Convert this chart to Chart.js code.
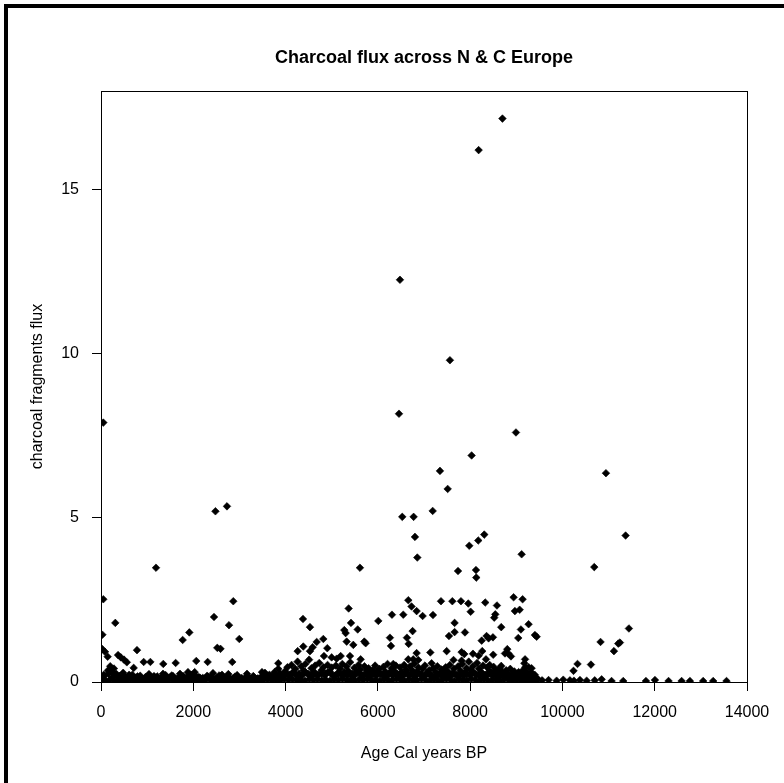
<!DOCTYPE html>
<html lang="en">
<head>
<meta charset="UTF-8">
<title>Charcoal flux across N &amp; C Europe</title>
<script src="https://cdn.jsdelivr.net/npm/chart.js"></script>
<style>
  html, body { margin: 0; padding: 0; background: #fff; }
  #wrap { width: 784px; height: 783px; }
</style>
</head>
<body>
<div id="wrap"><canvas id="fluxChart" width="784" height="783"></canvas></div>
<script>
const chartTitle = 'Charcoal flux across N & C Europe';
const xTitle = 'Age Cal years BP';
const yTitle = 'charcoal fragments flux';
const xTicks = [0, 2000, 4000, 6000, 8000, 10000, 12000, 14000];
const yTicks = [0, 5, 10, 15];

// the scattered points standing above the dense band
const peakAge = [
  8700, 8184, 6479, 7562, 6458, 50, 8993, 8032, 10943, 7346,
  7513, 7188, 6529, 6775, 6804, 6855, 11369, 7981, 8176, 8306,
  9116, 10690, 7737, 8126, 8133, 2480, 2730, 1192, 5612, 50,
  2867, 310, 2449, 30, 1914, 1770, 2997, 30, 87, 144,
  370, 430, 500, 560, 780, 2520, 2590, 925, 1070, 1350,
  1618, 2065, 2311, 2845, 708, 4377, 4529, 5367, 5418, 5273,
  5302, 5563, 6010, 6306, 6551, 6660, 6730, 6840, 6970, 6262,
  6284, 6630, 6667, 6753, 4818, 4674, 4587, 4262, 4384, 4529,
  4904, 4832, 4999, 5107, 5194, 5396, 5324, 5468, 5706, 5736,
  5627, 6334, 6840, 3842, 7194, 7368, 7614, 7801, 7960, 8327,
  8581, 8942, 9137, 8970, 9073, 8011, 8545, 8522, 7663, 7888,
  7663, 7541, 8674, 9267, 9100, 9043, 9404, 9441, 8356, 8494,
  8400, 8250, 7137, 7491, 7815, 7873, 8061, 8262, 8805, 8755,
  8885, 8500, 9190, 9175, 7640, 8343, 8423, 8674, 9332, 10327,
  10240, 10618, 11441, 10826, 11210, 11246, 11116, 2774, 6767, 6876,
  6659, 7165, 7815, 8184, 8826
];
const peakFlux = [
  17.16, 16.2, 12.25, 9.8, 8.17, 7.9, 7.6, 6.9, 6.36, 6.43,
  5.88, 5.21, 5.03, 5.03, 4.42, 3.79, 4.46, 4.15, 4.31, 4.49,
  3.89, 3.5, 3.38, 3.41, 3.18, 5.2, 5.35, 3.48, 3.48, 2.52,
  2.46, 1.8, 1.98, 1.44, 1.51, 1.28, 1.31, 1.0, 0.92, 0.77,
  0.82, 0.75, 0.68, 0.6, 0.97, 1.04, 1.01, 0.61, 0.61, 0.55,
  0.58, 0.64, 0.61, 0.61, 0.43, 1.92, 1.67, 2.24, 1.8, 1.58,
  1.49, 1.6, 1.86, 2.05, 2.05, 2.49, 2.3, 2.16, 2.01, 1.35,
  1.1, 1.35, 1.16, 1.55, 1.31, 1.22, 1.06, 0.94, 1.08, 0.94,
  1.03, 0.79, 0.75, 0.71, 0.79, 0.79, 1.23, 1.13, 1.23, 1.18,
  0.69, 0.55, 0.88, 0.57, 2.04, 2.46, 2.46, 2.46, 2.39, 2.42,
  2.33, 2.58, 2.52, 2.16, 2.2, 2.14, 2.06, 1.96, 1.8, 1.51,
  1.52, 1.4, 1.67, 1.76, 1.6, 1.34, 1.43, 1.38, 1.4, 1.36,
  1.33, 1.26, 0.9, 0.94, 0.91, 0.85, 0.86, 0.94, 1.0, 0.87,
  0.78, 0.83, 0.69, 0.57, 0.67, 0.69, 0.52, 0.49, 0.42, 0.55,
  0.34, 0.53, 1.63, 1.22, 1.17, 1.2, 0.94, 1.73, 0.69, 0.67,
  0.69, 0.57, 0.65, 0.8, 0.87
];

// upper part of the dense band near zero
const bandAge = [
  60, 150, 200, 240, 280, 330, 400, 480, 600, 680,
  760, 850, 960, 1040, 1130, 1220, 1300, 1344, 1400, 1490,
  1532, 1560, 1650, 1712, 1750, 1850, 1885, 1950, 2030, 2037,
  2120, 2200, 2300, 2380, 2427, 2560, 2622, 2650, 2760, 2900,
  2950, 3050, 3150, 3164, 3230, 3300, 3380, 3460, 3489, 3553,
  3600, 3650, 3700, 3760, 3800, 3842, 3890, 3940, 3990, 4040,
  4080, 4130, 4170, 4210, 4260, 4300, 4340, 4390, 4430, 4470,
  4510, 4560, 4600, 4640, 4690, 4730, 4780, 4820, 4870, 4910,
  4960, 5000, 5050, 5090, 5140, 5180, 5230, 5270, 5320, 5360,
  5400, 5450, 5490, 5540, 5580, 5620, 5670, 5710, 5760, 5800,
  5850, 5890, 5940, 5980, 6030, 6070, 6120, 6160, 6210, 6250,
  6300, 6340, 6390, 6430, 6480, 6520, 6570, 6610, 6660, 6700,
  6750, 6790, 6840, 6880, 6930, 6970, 7020, 7060, 7110, 7150,
  7200, 7250, 7290, 7340, 7380, 7430, 7470, 7520, 7560, 7610,
  7650, 7700, 7740, 7790, 7830, 7880, 7920, 7970, 8010, 8060,
  8100, 8150, 8190, 8240, 8280, 8330, 8370, 8420, 8460, 8510,
  8550, 8600, 8640, 8690, 8730, 8780, 8820, 8870, 8910, 8960,
  9000, 9050, 9090, 9140, 9180, 9185, 9195, 9230, 9270, 9320,
  9360, 9400, 9440
];
const bandFlux = [
  0.22, 0.35, 0.48, 0.30, 0.41, 0.25, 0.18, 0.28, 0.16, 0.22,
  0.12, 0.19, 0.14, 0.24, 0.11, 0.17, 0.13, 0.25, 0.21, 0.12,
  0.20, 0.18, 0.10, 0.25, 0.16, 0.13, 0.30, 0.22, 0.30, 0.15,
  0.15, 0.12, 0.19, 0.14, 0.27, 0.20, 0.22, 0.15, 0.24, 0.16,
  0.21, 0.12, 0.15, 0.25, 0.10, 0.18, 0.09, 0.14, 0.30, 0.28,
  0.12, 0.22, 0.08, 0.30, 0.18, 0.40, 0.25, 0.14, 0.33, 0.45,
  0.22, 0.52, 0.30, 0.40, 0.62, 0.18, 0.48, 0.35, 0.55, 0.25,
  0.68, 0.42, 0.30, 0.50, 0.20, 0.58, 0.36, 0.45, 0.26, 0.52,
  0.32, 0.44, 0.18, 0.50, 0.28, 0.40, 0.55, 0.22, 0.47, 0.33,
  0.60, 0.25, 0.43, 0.30, 0.52, 0.38, 0.20, 0.48, 0.34, 0.42,
  0.26, 0.36, 0.50, 0.30, 0.40, 0.22, 0.46, 0.32, 0.55, 0.28,
  0.42, 0.35, 0.50, 0.24, 0.44, 0.30, 0.52, 0.38, 0.26, 0.48,
  0.35, 0.56, 0.30, 0.44, 0.22, 0.40, 0.50, 0.28, 0.36, 0.20,
  0.42, 0.30, 0.48, 0.25, 0.38, 0.18, 0.45, 0.32, 0.52, 0.26,
  0.40, 0.22, 0.48, 0.34, 0.55, 0.28, 0.42, 0.62, 0.36, 0.48,
  0.25, 0.58, 0.40, 0.30, 0.50, 0.22, 0.44, 0.33, 0.28, 0.46,
  0.35, 0.25, 0.42, 0.30, 0.20, 0.36, 0.26, 0.40, 0.22, 0.32,
  0.18, 0.30, 0.24, 0.35, 0.20, 0.33, 0.45, 0.28, 0.45, 0.30,
  0.18, 0.22, 0.12
];

// middle of the band, between the bottom row and the band top
const fillAge = [
  65, 160, 250, 345, 430, 520, 610, 700, 790, 880,
  975, 1060, 1150, 1240, 1330, 1425, 1510, 1600, 1690, 1780,
  1870, 1960, 2050, 2145, 2230, 2320, 2410, 2500, 2590, 2680,
  2770, 2860, 2950, 3040, 3130, 3220, 3310, 3400, 3490, 3570,
  3660, 3730, 3800, 3870, 3940, 4010, 4080, 4150, 4220, 4290,
  4360, 4430, 4500, 4570, 4640, 4710, 4780, 4850, 4920, 4990,
  5060, 5130, 5200, 5270, 5340, 5410, 5480, 5550, 5620, 5690,
  5760, 5830, 5900, 5970, 6040, 6110, 6180, 6250, 6320, 6390,
  6460, 6530, 6600, 6670, 6740, 6810, 6880, 6950, 7020, 7090,
  7160, 7230, 7300, 7370, 7440, 7510, 7580, 7650, 7720, 7790,
  7860, 7930, 8000, 8070, 8140, 8210, 8280, 8350, 8420, 8490,
  8560, 8630, 8700, 8770, 8840, 8910, 8980, 9050, 9120, 9190,
  9260, 9330, 9400
];
const fillFlux = [
  0.18, 0.25, 0.14, 0.20, 0.12, 0.16, 0.22, 0.13, 0.17, 0.11,
  0.15, 0.12, 0.18, 0.10, 0.14, 0.12, 0.16, 0.11, 0.13, 0.18,
  0.12, 0.15, 0.19, 0.13, 0.11, 0.16, 0.14, 0.12, 0.17, 0.13,
  0.15, 0.11, 0.14, 0.10, 0.13, 0.12, 0.15, 0.11, 0.16, 0.14,
  0.16, 0.20, 0.14, 0.22, 0.18, 0.25, 0.20, 0.28, 0.22, 0.26,
  0.20, 0.30, 0.24, 0.18, 0.28, 0.22, 0.26, 0.20, 0.30, 0.24,
  0.18, 0.26, 0.22, 0.30, 0.20, 0.25, 0.18, 0.28, 0.24, 0.20,
  0.26, 0.18, 0.24, 0.20, 0.28, 0.22, 0.18, 0.25, 0.20, 0.27,
  0.22, 0.18, 0.26, 0.20, 0.24, 0.18, 0.28, 0.22, 0.19, 0.25,
  0.20, 0.16, 0.24, 0.20, 0.28, 0.22, 0.18, 0.26, 0.20, 0.24,
  0.18, 0.25, 0.20, 0.30, 0.22, 0.18, 0.24, 0.20, 0.26, 0.18,
  0.22, 0.16, 0.24, 0.18, 0.20, 0.15, 0.22, 0.18, 0.16, 0.24,
  0.18, 0.15, 0.12
];

// bottom of the band, almost on the axis
const baseAge = [
  20, 110, 190, 290, 370, 460, 560, 640, 735, 820,
  910, 1005, 1090, 1180, 1275, 1360, 1450, 1545, 1630, 1720,
  1815, 1900, 1990, 2085, 2170, 2260, 2355, 2440, 2530, 2625,
  2710, 2800, 2895, 2980, 3070, 3165, 3250, 3340, 3435, 3520,
  3610, 3705, 3790, 3880, 3975, 4060, 4150, 4245, 4330, 4420,
  4515, 4600, 4690, 4785, 4870, 4960, 5055, 5140, 5230, 5325,
  5410, 5500, 5595, 5680, 5770, 5865, 5950, 6040, 6135, 6220,
  6310, 6405, 6490, 6580, 6675, 6760, 6850, 6945, 7030, 7120,
  7215, 7300, 7390, 7485, 7570, 7660, 7755, 7840, 7930, 8025,
  8110, 8200, 8295, 8380, 8470, 8565, 8650, 8740, 8835, 8920,
  9010, 9105, 9190, 9280, 9375, 9470, 9560, 9700, 9874, 10018,
  10163, 10250, 10380, 10525, 10700
];
const baseFlux = [
  0.05, 0.03, 0.07, 0.04, 0.06, 0.02, 0.05, 0.08, 0.03, 0.06,
  0.04, 0.07, 0.02, 0.05, 0.03, 0.06, 0.04, 0.08, 0.03, 0.05,
  0.02, 0.06, 0.04, 0.07, 0.03, 0.05, 0.08, 0.04, 0.06, 0.02,
  0.05, 0.03, 0.07, 0.04, 0.06, 0.03, 0.05, 0.02, 0.04, 0.06,
  0.08, 0.05, 0.07, 0.04, 0.09, 0.06, 0.08, 0.05, 0.07, 0.04,
  0.09, 0.06, 0.08, 0.05, 0.07, 0.04, 0.08, 0.06, 0.09, 0.05,
  0.07, 0.04, 0.08, 0.06, 0.09, 0.05, 0.07, 0.04, 0.08, 0.06,
  0.05, 0.09, 0.07, 0.04, 0.08, 0.06, 0.05, 0.09, 0.07, 0.04,
  0.08, 0.06, 0.05, 0.09, 0.07, 0.04, 0.08, 0.06, 0.05, 0.09,
  0.07, 0.04, 0.08, 0.06, 0.05, 0.07, 0.04, 0.08, 0.06, 0.05,
  0.07, 0.04, 0.06, 0.05, 0.03, 0.08, 0.05, 0.06, 0.04, 0.07,
  0.05, 0.04, 0.06, 0.04, 0.05
];

// oldest samples, a sparse row on the axis
const tailAge = [10850, 11065, 11318, 11810, 12005, 12300, 12583, 12763, 13050, 13267, 13556];
const tailFlux = [0.08, 0.03, 0.03, 0.03, 0.06, 0.03, 0.03, 0.03, 0.03, 0.03, 0.03];

function zip(xs, ys) {
  return xs.map((x, i) => ({ x: x, y: ys[i] }));
}
const points = [].concat(
  zip(baseAge, baseFlux),
  zip(fillAge, fillFlux),
  zip(bandAge, bandFlux),
  zip(tailAge, tailFlux),
  zip(peakAge, peakFlux)
);

const font = '"Liberation Sans", Arial, sans-serif';

// page frame, box round the plot and the title, R style
const rDecor = {
  id: 'rDecor',
  beforeDraw(chart) {
    const c = chart.ctx;
    c.save();
    c.fillStyle = '#fff';
    c.fillRect(0, 0, chart.width, chart.height);
    c.fillStyle = '#000';
    c.fillRect(4, 4, 4, chart.height - 4);
    c.fillRect(4, 4, chart.width - 4, 4);
    c.restore();
  },
  afterDraw(chart) {
    const c = chart.ctx;
    const a = chart.chartArea;
    c.save();
    c.strokeStyle = '#000';
    c.lineWidth = 1;
    c.strokeRect(Math.round(a.left) + 0.5, Math.round(a.top) + 0.5,
                 Math.round(a.right - a.left), Math.round(a.bottom - a.top));
    c.fillStyle = '#000';
    c.font = 'bold 18px ' + font;
    c.textAlign = 'center';
    c.textBaseline = 'middle';
    c.fillText(chartTitle, (a.left + a.right) / 2, 58);
    c.restore();
  }
};

const ctx = document.getElementById('fluxChart').getContext('2d');
new Chart(ctx, {
  type: 'scatter',
  data: {
    datasets: [{
      data: points,
      pointStyle: 'rectRot',
      pointRadius: 3.8,
      pointBorderWidth: 0.6,
      backgroundColor: '#000',
      borderColor: '#000',
      clip: 0
    }]
  },
  options: {
    responsive: false,
    animation: false,
    events: [],
    layout: { padding: { top: 91, right: 37, left: 0, bottom: 0 } },
    plugins: {
      legend: { display: false },
      tooltip: { enabled: false },
      title: { display: false }
    },
    scales: {
      x: {
        type: 'linear',
        min: xTicks[0],
        max: xTicks[xTicks.length - 1],
        afterFit: s => { s.height = 101; },
        afterBuildTicks: s => { s.ticks = xTicks.map(v => ({ value: v })); },
        ticks: {
          color: '#000',
          font: { family: font, size: 16 },
          padding: 12,
          maxRotation: 0,
          autoSkip: false,
          callback: v => String(v)
        },
        grid: {
          drawOnChartArea: false,
          drawTicks: true,
          tickLength: 9,
          tickColor: '#000',
          color: '#000'
        },
        border: { display: true, color: '#000', width: 1 },
        title: {
          display: true,
          text: xTitle,
          color: '#000',
          font: { family: font, size: 16 },
          padding: { top: 0, bottom: 20 }
        }
      },
      y: {
        type: 'linear',
        min: 0,
        max: 18,
        afterFit: s => { s.width = 101; },
        afterBuildTicks: s => { s.ticks = yTicks.map(v => ({ value: v })); },
        ticks: {
          color: '#000',
          font: { family: font, size: 16 },
          padding: 13,
          callback: v => String(v)
        },
        grid: {
          drawOnChartArea: false,
          drawTicks: true,
          tickLength: 9,
          tickColor: '#000',
          color: '#000'
        },
        border: { display: true, color: '#000', width: 1 },
        title: {
          display: true,
          text: yTitle,
          color: '#000',
          font: { family: font, size: 16 },
          padding: { top: 28, bottom: 0 }
        }
      }
    }
  },
  plugins: [rDecor]
});
</script>
</body>
</html>
